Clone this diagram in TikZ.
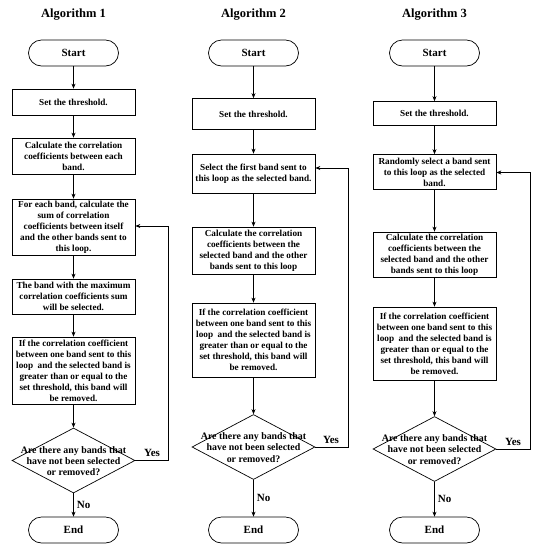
\documentclass[tikz,border=0pt]{standalone}
\usepackage{fontspec}
\setmainfont{Liberation Serif}
\usetikzlibrary{arrows.meta,shapes.geometric}
\begin{document}
\begin{tikzpicture}[x=1pt,y=-1pt,
  base/.style={draw,line width=0.7pt,inner sep=0pt,align=center,font=\bfseries\fontsize{9.2}{11}\selectfont},
  box/.style={base,minimum width=123pt},
  term/.style={base,rounded corners=13pt,minimum width=90pt,minimum height=26pt,font=\bfseries\fontsize{11}{12}\selectfont},
  dec/.style={draw,line width=0.7pt,diamond,inner sep=0pt,minimum width=123pt,minimum height=65pt},
  dectext/.style={align=center,inner sep=0pt,font=\bfseries\fontsize{9.9}{11.3}\selectfont},
  ttl/.style={font=\bfseries\fontsize{12.5}{14}\selectfont},
  lbl/.style={font=\bfseries\fontsize{11}{12}\selectfont,inner sep=0pt},
  arr/.style={draw,line width=0.7pt,-{Stealth[length=5pt,width=4pt]}}]
\useasboundingbox (0,0) rectangle (537,550);

% ---------- Column 1 ----------
\node[ttl] (t1) at (73.5,15) {Algorithm 1};
\node[term] (s1) at (73.5,53) {Start};
\node[box,minimum height=26pt] (a1) at (73.5,102) {Set the threshold.};
\node[box,minimum height=36pt] (b1) at (73.5,156) {Calculate the correlation\\coefficients between each\\band.};
\node[box,minimum height=56pt] (c1) at (73.5,227) {For each band, calculate the\\sum of correlation\\coefficients between itself\\and the other bands sent to\\this loop.};
\node[box,minimum height=35pt] (d1) at (73.5,296.5) {The band with the maximum\\correlation coefficients sum\\will be selected.};
\node[box,minimum height=67pt] (e1) at (73.5,370.5) {If the correlation coefficient\\between one band sent to this\\loop\ \ and the selected band is\\greater than or equal to the\\set threshold, this band will\\be removed.};
\node[dec] (f1) at (73.5,460.5) {};
\node[dectext] at (73.5,461) {Are there any bands that\\have not been selected\\or removed?};
\node[term] (g1) at (73.5,530) {End};
\coordinate (y1) at (168,460.5);
\coordinate (y1b) at (168,226);
\draw[arr] (s1) -- (a1);
\draw[arr] (a1) -- (b1);
\draw[arr] (b1) -- (c1);
\draw[arr] (c1) -- (d1);
\draw[arr] (d1) -- (e1);
\draw[arr] (e1) -- (f1);
\draw[arr] (f1) -- node[lbl,right=3pt] {No} (g1);
\draw[arr] (f1.east) -- (y1) -- (y1b) -- (c1.east |- y1b);
\node[lbl] at (152,453) {Yes};

% ---------- Column 2 ----------
\node[ttl] (t2) at (253.5,15) {Algorithm 2};
\node[term] (s2) at (253.5,53) {Start};
\node[box,minimum height=31pt] (a2) at (253.5,114) {Set the threshold.};
\node[box,minimum height=39pt] (b2) at (253.5,173.5) {Select the first band sent to\\this loop as the selected band.};
\node[box,minimum height=47pt] (c2) at (253.5,250.5) {Calculate the correlation\\coefficients between the\\selected band and the other\\bands sent to this loop};
\node[box,minimum height=74pt] (d2) at (253.5,340) {If the correlation coefficient\\between one band sent to this\\loop\ \ and the selected band is\\greater than or equal to the\\set threshold, this band will\\be removed.};
\node[dec] (f2) at (253.5,447) {};
\node[dectext] at (253.5,447.5) {Are there any bands that\\have not been selected\\or removed?};
\node[term] (g2) at (253.5,530) {End};
\coordinate (y2) at (348,447);
\coordinate (y2b) at (348,168);
\draw[arr] (s2) -- (a2);
\draw[arr] (a2) -- (b2);
\draw[arr] (b2) -- (c2);
\draw[arr] (c2) -- (d2);
\draw[arr] (d2) -- (f2);
\draw[arr] (f2) -- node[lbl,right=3pt] {No} (g2);
\draw[arr] (f2.east) -- (y2) -- (y2b) -- (b2.east |- y2b);
\node[lbl] at (331,440) {Yes};

% ---------- Column 3 ----------
\node[ttl] (t3) at (434.5,15) {Algorithm 3};
\node[term] (s3) at (434.5,53) {Start};
\node[box,minimum height=24pt] (a3) at (434.5,113.5) {Set the threshold.};
\node[box,minimum height=35pt] (b3) at (434.5,172) {Randomly select a band sent\\to this loop as the selected\\band.};
\node[box,minimum height=45pt] (c3) at (434.5,254.5) {Calculate the correlation\\coefficients between the\\selected band and the other\\bands sent to this loop};
\node[box,minimum height=73pt] (d3) at (434.5,343.5) {If the correlation coefficient\\between one band sent to this\\loop\ \ and the selected band is\\greater than or equal to the\\set threshold, this band will\\be removed.};
\node[dec] (f3) at (434.5,449) {};
\node[dectext] at (434.5,449.5) {Are there any bands that\\have not been selected\\or removed?};
\node[term] (g3) at (434.5,530) {End};
\coordinate (y3) at (530,449);
\coordinate (y3b) at (530,172.5);
\draw[arr] (s3) -- (a3);
\draw[arr] (a3) -- (b3);
\draw[arr] (b3) -- (c3);
\draw[arr] (c3) -- (d3);
\draw[arr] (d3) -- (f3);
\draw[arr] (f3) -- node[lbl,right=3pt] {No} (g3);
\draw[arr] (f3.east) -- (y3) -- (y3b) -- (b3.east |- y3b);
\node[lbl] at (513,442) {Yes};
\end{tikzpicture}
\end{document}
